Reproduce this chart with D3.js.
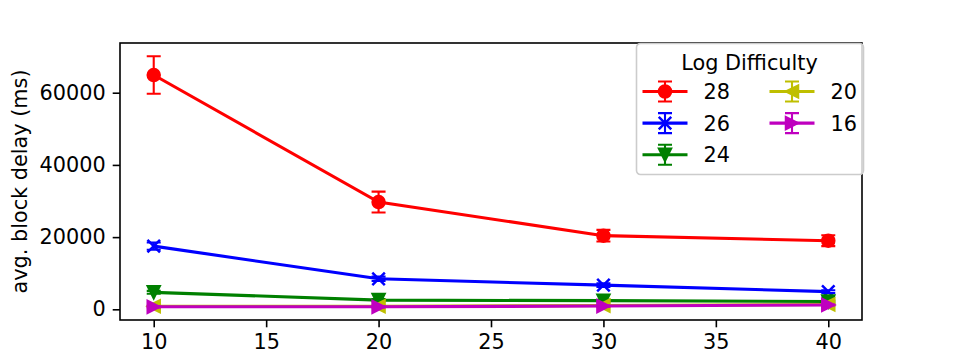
<!DOCTYPE html>
<html>
<head>
<meta charset="utf-8">
<script src="https://cdn.jsdelivr.net/npm/d3@7"></script>
<style>
  body { margin: 0; background: #fff; }
  svg { display: block; font-family: "DejaVu Sans", sans-serif; }
</style>
</head>
<body>
<svg id="chart" width="960" height="360"></svg>
<script>
// Number of peers on the x axis
const peers = [10, 20, 30, 40];

// Mean block delay (ms) per log difficulty
const series = ["28", "26", "24", "20", "16"];
const delay28 = [64900, 29700, 20400, 19000];
const delay26 = [17500, 8450, 6700, 4900];
const delay24 = [4700, 2550, 2400, 2150];
const delay20 = [850, 850, 1050, 1350];
const delay16 = [700, 700, 900, 1200];

// Error (± ms)
const err28 = [5200, 2900, 1600, 1500];
const err26 = [1000, 600, 500, 400];
const err24 = [400, 300, 250, 250];
const err20 = [200, 200, 200, 200];
const err16 = [150, 150, 150, 150];

const xTicks = [10, 15, 20, 25, 30, 35, 40];
const yTicks = [0, 20000, 40000, 60000];

const colors = { "28": "#ff0000", "26": "#0000ff", "24": "#008000", "20": "#bfbf00", "16": "#bf00bf" };
const markers = { "28": "circle", "26": "x", "24": "tri-down", "20": "tri-left", "16": "tri-right" };

const data = series.map((s, i) => ({
    name: s,
    values: [delay28, delay26, delay24, delay20, delay16][i],
    errors: [err28, err26, err24, err20, err16][i]
}));

const svg = d3.select("#chart");
const margin = { left: 120, right: 98, top: 43, bottom: 40 };
const width = 960 - margin.left - margin.right;
const height = 360 - margin.top - margin.bottom;
const fontSize = 20.8;

const x = d3.scaleLinear().domain([8.5, 41.5]).range([0, width]);
const y = d3.scaleLinear().domain([-2960, 73770]).range([height, 0]);

const g = svg.append("g").attr("transform", `translate(${margin.left},${margin.top})`);

// draw a marker shape centred at 0,0
function drawMarker(sel, type, color) {
    const r = 6.25;
    if (type === "circle") {
        sel.append("circle").attr("r", r).attr("fill", color)
            .attr("stroke", color).attr("stroke-width", 2);
    } else if (type === "x") {
        sel.append("path")
            .attr("d", `M${-r},${-r}L${r},${r}M${-r},${r}L${r},${-r}`)
            .attr("stroke", color).attr("stroke-width", 2.5).attr("fill", "none");
    } else {
        let pts;
        if (type === "tri-down") pts = [[0, r], [-r, -r], [r, -r]];
        if (type === "tri-left") pts = [[-r, 0], [r, -r], [r, r]];
        if (type === "tri-right") pts = [[r, 0], [-r, -r], [-r, r]];
        sel.append("path").attr("d", "M" + pts.join("L") + "Z").attr("fill", color)
            .attr("stroke", color).attr("stroke-width", 2).attr("stroke-linejoin", "miter");
    }
}

function drawErrorBar(sel, top, bottom, color) {
    const cap = 7;
    sel.append("path")
        .attr("d", `M0,${top}L0,${bottom}M${-cap},${top}L${cap},${top}M${-cap},${bottom}L${cap},${bottom}`)
        .attr("stroke", color).attr("stroke-width", 2.1).attr("fill", "none");
}

const line = d3.line().x((d, i) => x(peers[i])).y(d => y(d));

data.forEach(s => {
    const c = colors[s.name];
    const sg = g.append("g");
    sg.append("path")
        .datum(s.values)
        .attr("d", line)
        .attr("fill", "none")
        .attr("stroke", c)
        .attr("stroke-width", 3.1);
    s.values.forEach((v, i) => {
        const pg = sg.append("g").attr("transform", `translate(${x(peers[i])},${y(v)})`);
        drawErrorBar(pg, y(v + s.errors[i]) - y(v), y(v - s.errors[i]) - y(v), c);
        drawMarker(pg, markers[s.name], c);
    });
});

// axes frame
g.append("rect")
    .attr("width", width).attr("height", height)
    .attr("fill", "none").attr("stroke", "#000").attr("stroke-width", 1.6);

const xAxis = g.append("g")
    .attr("transform", `translate(0,${height})`)
    .call(d3.axisBottom(x).tickValues(xTicks).tickSize(7.3).tickPadding(7).tickFormat(d3.format("d")));
const yAxis = g.append("g")
    .call(d3.axisLeft(y).tickValues(yTicks).tickSize(7.3).tickPadding(7).tickFormat(d3.format("d")));

[xAxis, yAxis].forEach(a => {
    a.select(".domain").remove();
    a.selectAll(".tick line").attr("stroke", "#000").attr("stroke-width", 1.6);
    a.selectAll(".tick text").attr("fill", "#000").style("font-size", fontSize + "px")
        .style("font-family", "DejaVu Sans");
});

svg.append("text")
    .attr("transform", `translate(27,${margin.top + height / 2}) rotate(-90)`)
    .attr("text-anchor", "middle")
    .style("font-size", fontSize + "px")
    .text("avg. block delay (ms)");

// legend
const legend = svg.append("g").attr("transform", "translate(636.5,43.5)");
legend.append("rect")
    .attr("width", 227).attr("height", 131).attr("rx", 4)
    .attr("fill", "rgba(255,255,255,0.8)").attr("stroke", "#cccccc").attr("stroke-width", 1.6);
legend.append("text")
    .attr("x", 113).attr("y", 26)
    .attr("text-anchor", "middle")
    .style("font-size", fontSize + "px")
    .text("Log Difficulty");

const slots = [
    { col: 0, row: 0 }, { col: 0, row: 1 }, { col: 0, row: 2 },
    { col: 1, row: 0 }, { col: 1, row: 1 }
];
data.forEach((s, i) => {
    const c = colors[s.name];
    const ox = slots[i].col === 0 ? 6 : 133;
    const oy = 48 + slots[i].row * 31.6;
    const item = legend.append("g").attr("transform", `translate(${ox},${oy})`);
    item.append("line").attr("x1", 0).attr("x2", 45).attr("stroke", c).attr("stroke-width", 3.1);
    const mg = item.append("g").attr("transform", "translate(22.5,0)");
    drawErrorBar(mg, -10, 10, c);
    drawMarker(mg, markers[s.name], c);
    item.append("text")
        .attr("x", 61).attr("y", 0).attr("dy", "0.36em")
        .style("font-size", fontSize + "px")
        .text(s.name);
});
</script>
</body>
</html>
